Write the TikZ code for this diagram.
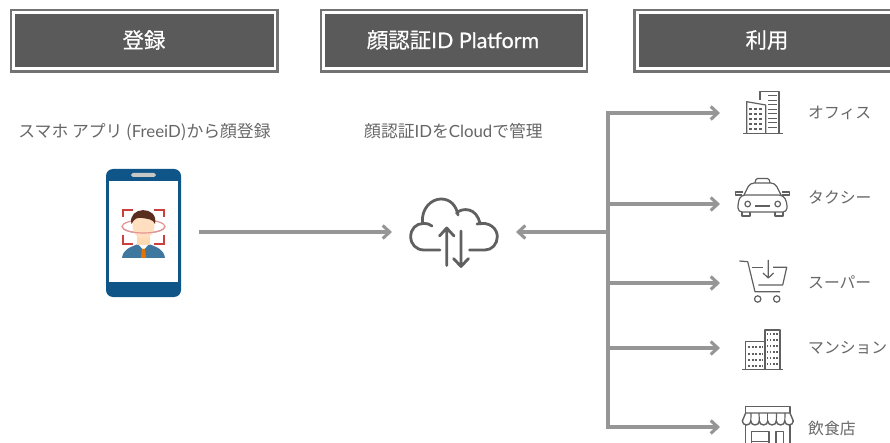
\documentclass[tikz,border=0pt]{standalone}
\usepackage{fontspec}
\usetikzlibrary{arrows.meta}
\setmainfont{Noto Sans CJK JP}
\newfontfamily\latinf{Lato}
\newfontfamily\hdrcjk[FakeBold=0.5]{Noto Sans CJK JP}
\newfontfamily\hdrlat[FakeBold=0.5]{Lato}
\definecolor{hdr}{HTML}{5A5A5A}
\definecolor{txt}{HTML}{666666}
\definecolor{conncol}{HTML}{969696}
\definecolor{ico}{HTML}{606060}
\definecolor{phonecol}{HTML}{0F5587}
\definecolor{frm}{HTML}{CC3F3F}
\definecolor{hair}{HTML}{5A2E1E}
\tikzset{
 hdrout/.style={draw=hdr!85!white,line width=2.2pt,fill=white},
 hdrin/.style={fill=hdr},
 hdrtext/.style={text=white,font=\hdrcjk\fontsize{21.4}{24}\selectfont,inner sep=0pt,anchor=center},
 lab/.style={text=txt,font=\fontsize{15.8}{18}\selectfont,inner sep=0pt,anchor=west},
 captext/.style={text=txt,font=\fontsize{16.8}{20}\selectfont,inner sep=0pt,anchor=center},
 connline/.style={draw=conncol,line width=3.1pt},
 arr/.style={connline,-{Straight Barb[length=7pt,width=13pt,line width=3.1pt]}},
 icon/.style={draw=ico,line width=1.2pt,line join=round},
 cloudl/.style={draw=ico,line width=2.8pt,line cap=round,line join=round},
}
\begin{document}
\begin{tikzpicture}[x=1pt,y=-1pt]
\useasboundingbox (0,0) rectangle (890,443);
\clip (0,0) rectangle (890,443);
% headers
\draw[hdrout] (11,10) rectangle (277.5,71.5);
\fill[hdrin] (14.5,14) rectangle (273.5,67);
\node[hdrtext] (h1) at (144,40) {登録};
\draw[hdrout] (321,10) rectangle (587,71.5);
\fill[hdrin] (325,14) rectangle (582.5,67);
\node[hdrtext] (h2) at (453,40) {顔認証{\hdrlat ID Platform}};
\draw[hdrout] (634.5,10) rectangle (900,71.5);
\fill[hdrin] (638.5,14) rectangle (900,67);
\node[hdrtext] (h3) at (767,40) {利用};
% captions
\node[captext] (c1) at (144.5,132.5) {スマホ アプリ ({\latinf FreeiD})から顔登録};
\node[captext] (c2) at (453.5,131.5) {顔認証{\latinf ID}を{\latinf Cloud}で管理};
% phone
\fill[phonecol,rounded corners=7pt] (106,169) rectangle (181,297);
\fill[white] (109,181) rectangle (178,282);
\fill[black!22,rounded corners=1.8pt] (131,173) rectangle (156,177);
% person
\draw[frm!55!white,line width=1.2pt] (143.5,226.5) ellipse[x radius=21.5,y radius=6.5];
\fill[phonecol!80!white] (122,258) .. controls (123,249) and (131,247) .. (138,244) -- (149,244) .. controls (156,247) and (164,249) .. (165,258) -- cycle;
\fill[white] (138,244) -- (143.5,250) -- (149,244) -- cycle;
\fill[orange!90!black] (141.8,249) -- (145.2,249) -- (146,258) -- (141,258) -- cycle;
\fill[orange!30!white] (137,234) rectangle (150,245);
\fill[orange!25!white] (143.5,225) ellipse[x radius=11,y radius=14];
\fill[hair] (131.5,224) .. controls (127,206) and (159,205) .. (155,224) .. controls (153,219) and (148,219) .. (142,218) .. controls (137,217) and (134,219) .. (131.5,224) -- cycle;
\draw[frm!55!white,line width=1.2pt] (122,226.5) arc[start angle=180,end angle=360,x radius=21.5,y radius=-6.5];
\draw[frm,line width=1.6pt] (123,217) -- (123,210) -- (133,210);
\draw[frm,line width=1.6pt] (154,210) -- (164,210) -- (164,217);
\draw[frm,line width=1.6pt] (123,235) -- (123,244) -- (133,244);
\draw[frm,line width=1.6pt] (154,244) -- (164,244) -- (164,235);
% cloud
\draw[cloudl] (440,250) -- (424,250) .. controls (416,250) and (410.7,244) .. (410.7,236.7) .. controls (410.7,229) and (416,223.5) .. (423,223.5) .. controls (427,223.5) and (430,224) .. (432,226);
\draw[cloudl] (422.5,223) .. controls (421,209) and (431,199) .. (441,199) .. controls (450,199) and (456,205) .. (458,215);
\draw[cloudl] (456.5,213) .. controls (462,207.5) and (477,207) .. (480,224);
\draw[cloudl] (477,224) .. controls (490,221) and (497.3,229) .. (497.3,236.7) .. controls (497.3,244) and (492,250) .. (485,250) -- (469.5,250);
\draw[cloudl] (446.7,265.5) -- (446.7,228) (439.5,236) -- (446.7,228) -- (454,236);
\draw[cloudl] (461,231) -- (461,266.5) (453.5,258.5) -- (461,266.5) -- (468.5,258.5);
% connectors
\coordinate (phoneout) at (199,232);
\coordinate (cloudin) at (392,232);
\coordinate (cloudout) at (516,232);
\coordinate (junc) at (608,232);
\coordinate (t1) at (608,113);
\coordinate (t2) at (608,204);
\coordinate (t3) at (608,283);
\coordinate (t4) at (608,348);
\coordinate (t5) at (608,427);
\coordinate (e1) at (720,113);
\coordinate (e2) at (720,204);
\coordinate (e3) at (720,283);
\coordinate (e4) at (720,348);
\coordinate (e5) at (720,427);
\draw[arr] (phoneout) -- (cloudin);
\draw[arr] (junc) -- (cloudout);
\draw[connline,line cap=rect] (t1) -- (t5);
\foreach \i in {1,...,5} \draw[arr] (t\i) -- (e\i);
% office
\draw[icon] (743,133.5) -- (783,133.5);
\draw[icon] (760,100) -- (760,91.7) -- (779,91.7) -- (779,133.5);
\draw[icon] (746.7,133.5) -- (746.7,101.7) -- (765.7,105) -- (765.7,133.5);
\foreach \y in {95.5,100,104.5,109,113.5,118,122.5,127}{\draw[ico,line width=.9pt] (768,\y) -- (777,\y);}
\foreach \y in {109,114,119,124,129}{\draw[ico,line width=1.3pt,dash pattern=on 3.2pt off 1.8pt] (749,\y) -- (763.5,\y);}
% taxi
\draw[icon,rounded corners=1.5pt] (755,183) -- (756,178.5) -- (769,178.5) -- (770,183);
\draw[icon,rounded corners=4pt] (744,195) -- (750,183) -- (775,183) -- (781,195);
\draw[icon,rounded corners=4pt] (741,195) -- (783,195) -- (787,202) -- (787,212) -- (738,212) -- (738,202) -- cycle;
\draw[icon] (742,195) -- (735.5,195) -- (735.5,192) -- (743,192);
\draw[icon] (782,195) -- (789.5,195) -- (789.5,192) -- (782,192);
\draw[icon] (742,212) -- (742,216) -- (750,216) -- (750,212);
\draw[icon] (775,212) -- (775,216) -- (783,216) -- (783,212);
\draw[icon] (747.7,204) circle[radius=2.8];
\draw[icon] (777.7,204) circle[radius=2.8];
\draw[icon,line width=1.3pt] (755,206) -- (770,206);
% cart
\draw[icon] (739.3,261) -- (747.7,261.7) -- (755,291.7) -- (780,291.7);
\draw[icon] (751.7,267.3) -- (763.3,267.3);
\draw[icon] (773,267.3) -- (786.7,267.3) -- (782.7,285) -- (758.3,285);
\draw[icon] (757.7,299) circle[radius=3.2];
\draw[icon] (776.7,299) circle[radius=3.2];
\draw[icon] (768.3,260) -- (768.3,278) (763,273) -- (768.3,278) -- (773.6,273);
% mansion
\draw[icon] (742.3,369.5) -- (783.3,369.5);
\draw[icon] (745.7,369.5) -- (745.7,341.7) -- (765,341.7) -- (765,369.5);
\draw[icon] (765,341.7) -- (765,330) -- (780,330) -- (780,369.5);
\foreach \y in {347,354,360,366}{\draw[ico,line width=1.1pt,dash pattern=on 2pt off 1.6pt] (748,\y) -- (763,\y);}
\foreach \y in {334,340,346,352,358,364}{\draw[ico,line width=1.2pt,dash pattern=on 1.3pt off 1.8pt] (767,\y) -- (778,\y);}
% shop
\draw[icon,line width=1.4pt] (745.7,413) -- (745.7,406.7) -- (790,406.7) -- (790,413);
\draw[icon,line width=1.4pt] (745.7,413) -- (790,413) -- (793.3,421);
\draw[icon,line width=1.4pt] (745.7,413) -- (742.3,421)
  arc[start angle=180,end angle=360,x radius=4.25,y radius=-4] arc[start angle=180,end angle=360,x radius=4.25,y radius=-4] arc[start angle=180,end angle=360,x radius=4.25,y radius=-4] arc[start angle=180,end angle=360,x radius=4.25,y radius=-4] arc[start angle=180,end angle=360,x radius=4.25,y radius=-4] arc[start angle=180,end angle=360,x radius=4.25,y radius=-4];
\foreach \a/\b in {751/750.8,759/759.3,767.8/767.8,776.5/776.3,785/784.8}{\draw[icon] (\a,413) -- (\b,421);}
\draw[icon,line width=1.4pt] (745.7,425) -- (745.7,445) (790,425) -- (790,445);
\draw[icon,line width=1.4pt] (751.7,445) -- (751.7,431.7) -- (769,431.7) -- (769,445) (751.7,441.7) -- (769,441.7);
\draw[icon,line width=1.4pt] (776,445) -- (776,431.7) -- (783.3,431.7) -- (783.3,445);
% labels
\node[lab] (l1) at (808,113) {オフィス};
\node[lab] (l2) at (808,197) {タクシー};
\node[lab] (l3) at (808,282) {スーパー};
\node[lab] (l4) at (808,348) {マンション};
\node[lab] (l5) at (808,428) {飲食店};
\end{tikzpicture}
\end{document}
